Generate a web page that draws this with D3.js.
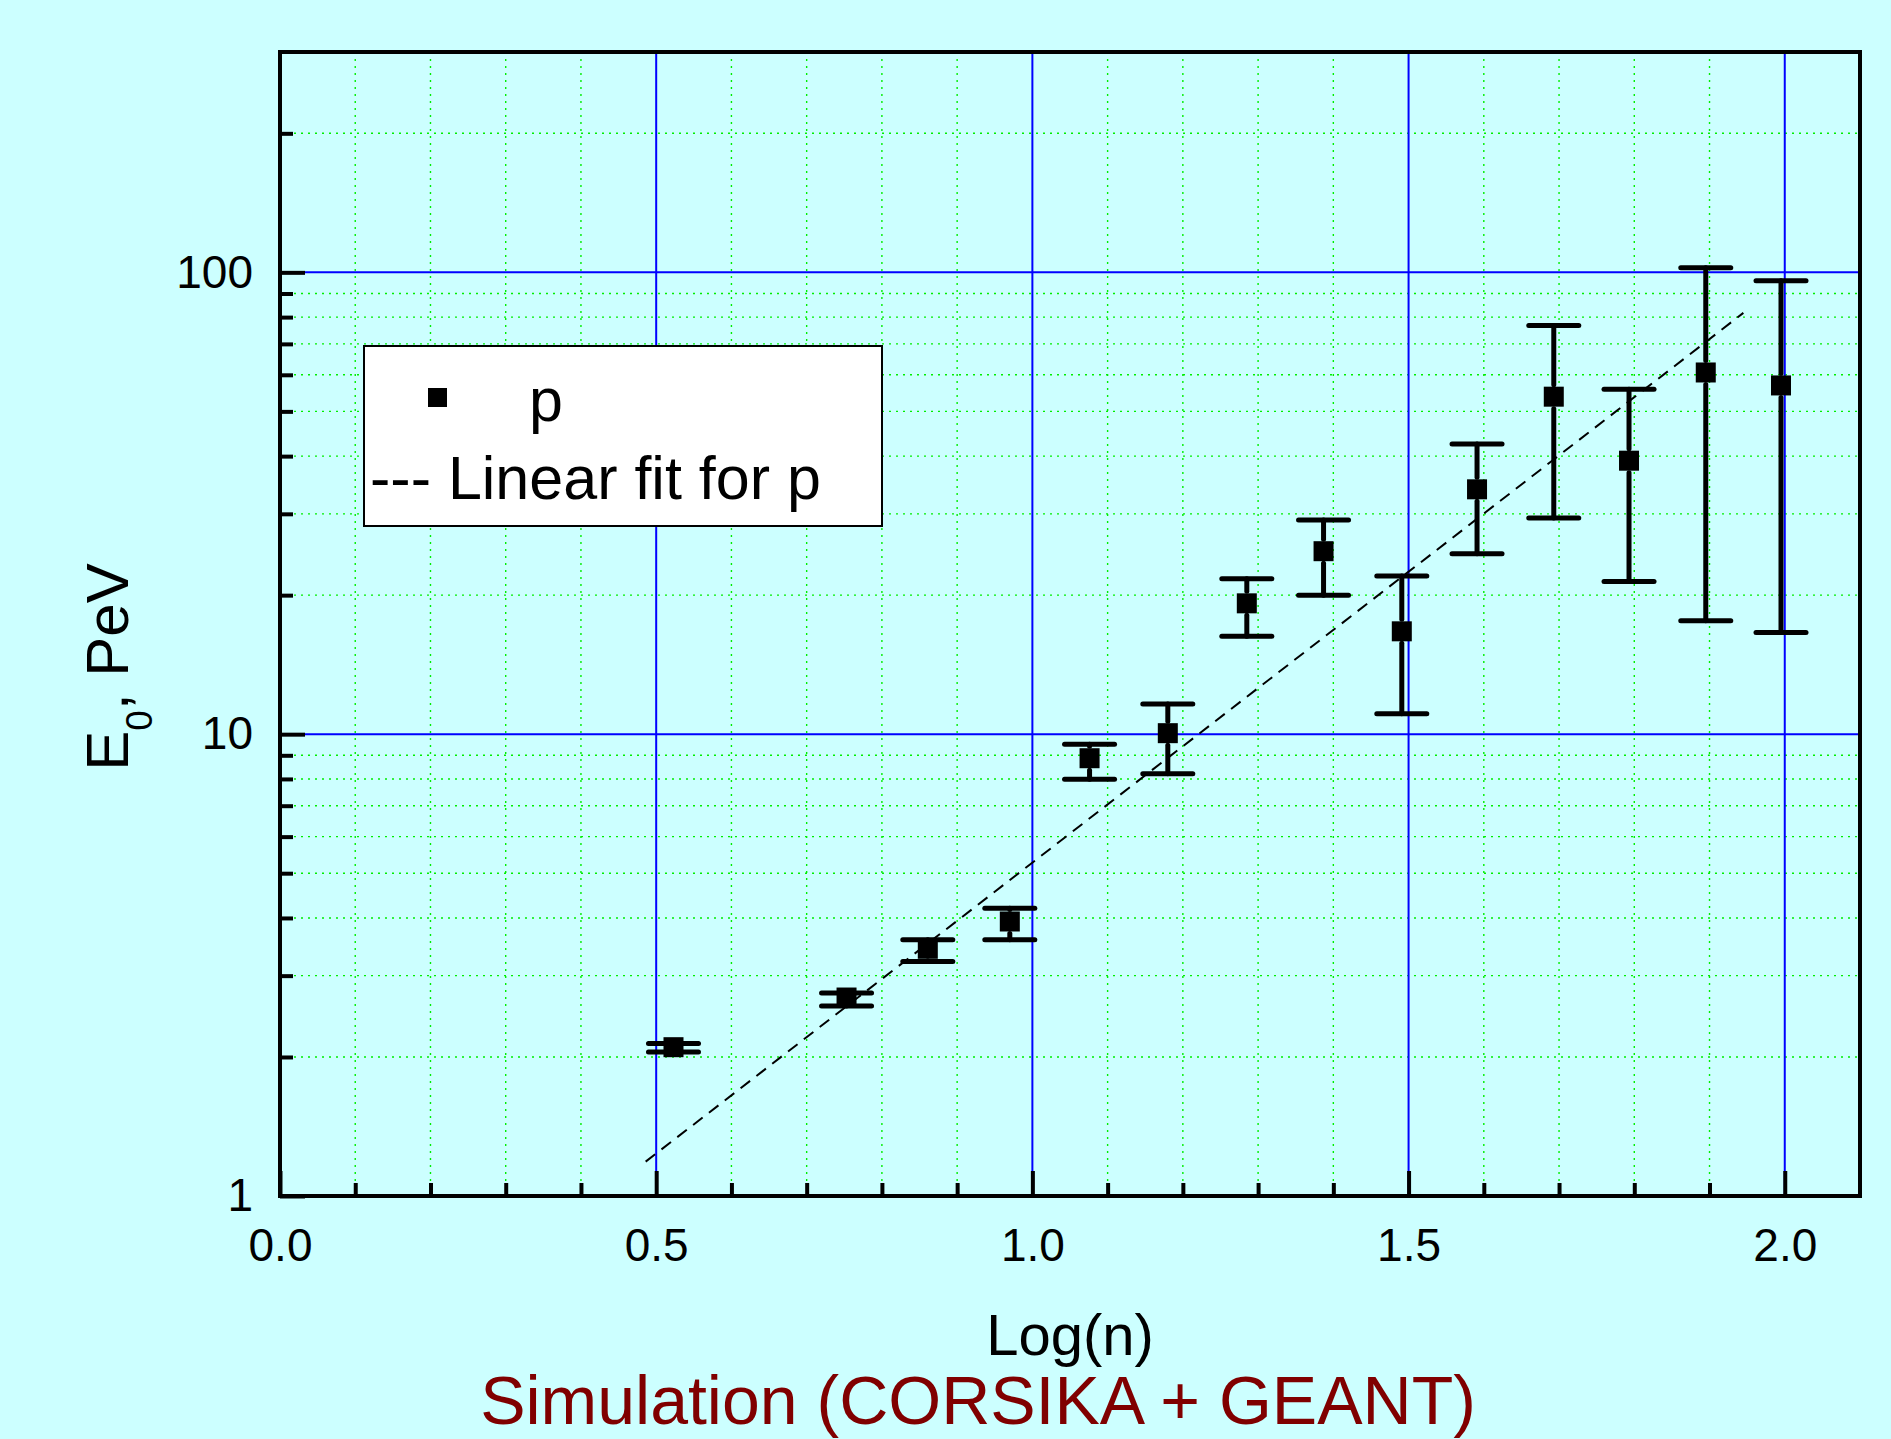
<!DOCTYPE html>
<html>
<head>
<meta charset="utf-8">
<script src="https://cdn.jsdelivr.net/npm/d3@7"></script>
<style>
  html, body { margin: 0; padding: 0; background: #ccffff; }
  svg { display: block; }
  text { font-family: "Liberation Sans", Arial, sans-serif; }
</style>
</head>
<body>
<svg id="chart" width="1891" height="1439"></svg>
<script>
// ---- data ----
const logN   = [0.523, 0.753, 0.861, 0.970, 1.076, 1.180, 1.285, 1.387, 1.491, 1.591, 1.693, 1.793, 1.895, 1.995];
const energy = [2.10, 2.69, 3.43, 3.93, 8.87, 10.05, 19.2, 24.9, 16.7, 33.9, 53.8, 39.1, 60.7, 56.9];
const errHi  = [2.14, 2.75, 3.59, 4.20, 9.51, 11.63, 21.7, 29.1, 22.0, 42.5, 76.7, 55.8, 102.3, 95.9];
const errLo  = [2.05, 2.58, 3.22, 3.59, 7.99, 8.21, 16.3, 20.0, 11.07, 24.6, 29.4, 21.4, 17.6, 16.6];
const fitX   = [0.486, 1.945];
const fitY   = [1.187, 81.7];
const xMajorTicks = [0.0, 0.5, 1.0, 1.5, 2.0];
const xMinorTicks = [0.1,0.2,0.3,0.4,0.6,0.7,0.8,0.9,1.1,1.2,1.3,1.4,1.6,1.7,1.8,1.9];
const yMajorTicks = [1, 10, 100];
const yMinorTicks = [2,3,4,5,6,7,8,9,20,30,40,50,60,70,80,90,200];
const xTitle = "Log(n)";
const subTitle = "Simulation (CORSIKA + GEANT)";
const legendLabels = ["p", "--- Linear fit for p"];

// ---- layout ----
const L = 280, R = 1860, T = 52, B = 1196;
const svg = d3.select("#chart");
svg.append("rect").attr("width", 1891).attr("height", 1439).attr("fill", "#ccffff");

const x = d3.scaleLinear().domain([0, 2.1]).range([L, R]);
const y = d3.scaleLog().domain([1, 300]).range([B, T]);

// grid
const grid = svg.append("g");
grid.selectAll(".gxm").data(xMinorTicks).join("line")
  .attr("x1", d => x(d)).attr("x2", d => x(d)).attr("y1", T).attr("y2", B)
  .attr("stroke", "#00ee00").attr("stroke-width", 1.4).attr("stroke-dasharray", "2,5");
grid.selectAll(".gym").data(yMinorTicks).join("line")
  .attr("y1", d => y(d)).attr("y2", d => y(d)).attr("x1", L).attr("x2", R)
  .attr("stroke", "#00ee00").attr("stroke-width", 1.4).attr("stroke-dasharray", "2,5");
grid.selectAll(".gxM").data(xMajorTicks.filter(d => d > 0)).join("line")
  .attr("x1", d => x(d)).attr("x2", d => x(d)).attr("y1", T).attr("y2", B)
  .attr("stroke", "#0000ff").attr("stroke-width", 2);
grid.selectAll(".gyM").data(yMajorTicks.filter(d => d > 1)).join("line")
  .attr("y1", d => y(d)).attr("y2", d => y(d)).attr("x1", L).attr("x2", R)
  .attr("stroke", "#0000ff").attr("stroke-width", 2);

// axes
const tickFont = 46;
function styleAxis(g) {
  g.select(".domain").remove();
  g.selectAll(".tick line").attr("stroke", "#000").attr("stroke-width", 4);
  g.selectAll(".tick text").attr("fill", "#000").style("font-size", tickFont + "px")
    .style("font-family", "'Liberation Sans', Arial, sans-serif");
}
svg.append("g").attr("transform", `translate(0,${B})`)
  .call(d3.axisBottom(x).tickValues(xMinorTicks).tickSize(-13).tickFormat(""))
  .call(styleAxis);
svg.append("g").attr("transform", `translate(0,${B})`)
  .call(d3.axisBottom(x).tickValues(xMajorTicks).tickSize(-25).tickPadding(32).tickFormat(d3.format(".1f")))
  .call(styleAxis);
svg.append("g").attr("transform", `translate(${L},0)`)
  .call(d3.axisLeft(y).tickValues(yMinorTicks).tickSize(-13).tickFormat(""))
  .call(styleAxis);
svg.append("g").attr("transform", `translate(${L},0)`)
  .call(d3.axisLeft(y).tickValues(yMajorTicks).tickSize(-25).tickPadding(27).tickFormat(d3.format("d")))
  .call(styleAxis);

// frame
svg.append("rect").attr("x", L).attr("y", T).attr("width", R - L).attr("height", B - T)
  .attr("fill", "none").attr("stroke", "#000").attr("stroke-width", 4);

// fit line
svg.append("line")
  .attr("x1", x(fitX[0])).attr("y1", y(fitY[0])).attr("x2", x(fitX[1])).attr("y2", y(fitY[1]))
  .attr("stroke", "#000").attr("stroke-width", 2).attr("stroke-dasharray", "12,8");

// error bars and points
const pts = logN.map((v, i) => ({x: v, y: energy[i], hi: errHi[i], lo: errLo[i]}));
const S = 20, capW = 50, gap = 2;
const eb = svg.append("g").attr("stroke", "#000").attr("stroke-width", 5).attr("stroke-linecap", "round");
eb.selectAll(".stemt").data(pts).join("line")
  .attr("x1", d => x(d.x)).attr("x2", d => x(d.x))
  .attr("y1", d => y(d.hi)).attr("y2", d => Math.max(y(d.hi), y(d.y) - S / 2 - gap));
eb.selectAll(".stemb").data(pts).join("line")
  .attr("x1", d => x(d.x)).attr("x2", d => x(d.x))
  .attr("y1", d => Math.min(y(d.lo), y(d.y) + S / 2 + gap)).attr("y2", d => y(d.lo));
eb.selectAll(".capt").data(pts).join("line")
  .attr("x1", d => x(d.x) - capW / 2).attr("x2", d => x(d.x) + capW / 2)
  .attr("y1", d => y(d.hi)).attr("y2", d => y(d.hi));
eb.selectAll(".capb").data(pts).join("line")
  .attr("x1", d => x(d.x) - capW / 2).attr("x2", d => x(d.x) + capW / 2)
  .attr("y1", d => y(d.lo)).attr("y2", d => y(d.lo));
svg.append("g").selectAll("rect").data(pts).join("rect")
  .attr("x", d => x(d.x) - S / 2).attr("y", d => y(d.y) - S / 2)
  .attr("width", S).attr("height", S).attr("fill", "#000");

// legend
const lg = svg.append("g");
lg.append("rect").attr("x", 364).attr("y", 346).attr("width", 518).attr("height", 180)
  .attr("fill", "#fff").attr("stroke", "#000").attr("stroke-width", 2);
lg.append("rect").attr("x", 428).attr("y", 388).attr("width", 19).attr("height", 19).attr("fill", "#000");
lg.append("text").attr("x", 529).attr("y", 421).style("font-size", "61px").attr("fill", "#000").text(legendLabels[0]);
lg.append("text").attr("x", 370).attr("y", 499).style("font-size", "61px").attr("fill", "#000").text(legendLabels[1]);

// titles
svg.append("text").attr("x", (L + R) / 2).attr("y", 1355).attr("text-anchor", "middle")
  .style("font-size", "58px").attr("fill", "#000").text(xTitle);
const yt = svg.append("text").attr("transform", "translate(128,667) rotate(-90)")
  .attr("text-anchor", "middle").style("font-size", "60px").attr("fill", "#000");
yt.append("tspan").text("E");
yt.append("tspan").attr("dy", 24).style("font-size", "37px").text("0");
yt.append("tspan").attr("dy", -24).text(", PeV");
svg.append("text").attr("x", 978).attr("y", 1424).attr("text-anchor", "middle")
  .style("font-size", "68px").attr("fill", "#800000").text(subTitle);
</script>
</body>
</html>
